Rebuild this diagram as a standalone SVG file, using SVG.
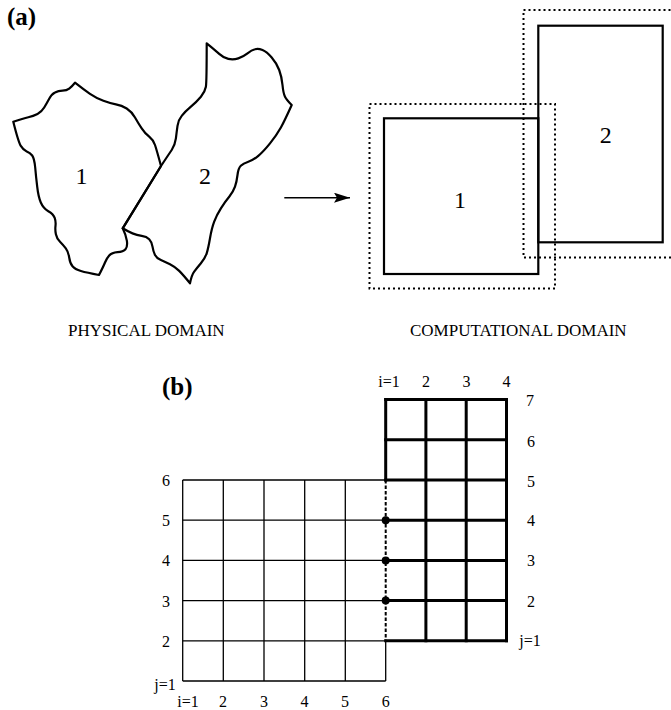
<svg xmlns="http://www.w3.org/2000/svg" width="671" height="710" viewBox="0 0 671 710">
  <defs>
    <style>
      text { font-family: "Liberation Serif", "Times New Roman", serif; fill: #000; }
      .panel { font-size: 25px; font-weight: bold; }
      .num { font-size: 24px; text-anchor: middle; }
      .cap { font-size: 17px; }
      .lab { font-size: 16px; text-anchor: middle; }
      .outline { fill: none; stroke: #000; stroke-width: 2.2; stroke-linejoin: round; }
      .box { fill: none; stroke: #000; stroke-width: 2.2; }
      .halo { fill: none; stroke: #000; stroke-width: 2; stroke-dasharray: 2 3; }
      .thin { stroke: #000; stroke-width: 1.3; fill: none; }
      .thick { stroke: #000; stroke-width: 3; fill: none; stroke-linecap: square; }
      .dash { stroke: #000; stroke-width: 2; stroke-dasharray: 3.5 2; fill: none; }
    </style>
    <marker id="arrowhead" viewBox="0 0 16 10" refX="16" refY="5" markerWidth="16" markerHeight="10" markerUnits="userSpaceOnUse" orient="auto">
      <path d="M0,0 L16,5 L0,10 L3,5 Z" fill="#000"/>
    </marker>
  </defs>

  <!-- panel (a) -->
  <text class="panel" x="7" y="25">(a)</text>

  <g id="physical-block-1">
    <path class="outline" d="M75,82.7 Q83.3,89.3 90,93.8 Q96.7,98.3 103.4,100.8 Q110,103.3 115.9,104.3 Q121.7,105.3 126.7,108.5 Q131.7,111.7 135,117.5 Q138.3,123.3 141.7,128.3 Q145,133.3 149.2,136.7 Q153.3,140 155,145 Q156.7,150 161,166
      L122.7,228.3
      Q126,235 126.9,240.9 Q127.7,246.7 125.5,249.2 Q123.3,251.7 117.5,252.2 Q111.7,252.7 109.2,255.5 Q106.7,258.3 105,262.5 Q103.3,266.7 99,275
      Q86.7,272.7 80.9,271 Q75,269.3 72.5,266.3 Q70,263.3 69.2,257.5 Q68.3,251.7 65.8,248.4 Q63.3,245 60,241.7 Q56.7,238.3 55.9,234.2 Q55,230 55.5,225.9 Q56,221.7 54.7,217.9 Q53.3,214 48.3,211.2 Q43.3,208.3 40.8,202.5 Q38.3,196.7 37.2,186.7 Q36,176.7 35.2,167.5 Q34.3,158.3 32.2,155.5 Q30,152.7 26.7,151.4 Q23.3,150 20.8,145.9 Q18.3,141.7 13.3,121.7
      Q23.3,118.3 28.3,117.2 Q33.3,116 37.5,113.9 Q41.7,111.7 44.2,107.5 Q46.7,103.3 49.2,98.7 Q51.7,94 55,92.4 Q58.3,90.7 62.5,90.7 Q66.7,90.7 69.2,88.7 Q71.7,86.7 75,82.7 Z"/>
    <text class="num" x="81.5" y="184">1</text>
  </g>

  <g id="physical-block-2">
    <path class="outline" d="M161,166 Q168.3,155 171.7,150 Q175,145 175.9,138.4 Q176.7,131.7 177.5,125.9 Q178.3,120 181.7,115.9 Q185,111.7 190.9,106.7 Q196.7,101.7 200.9,96.7 Q205,91.7 205.9,86.7 Q206.7,81.7 206.7,43.3
      Q215,50 219.2,53.9 Q223.3,57.7 228.3,58.9 Q233.3,60 238.3,58.4 Q243.3,56.7 247.5,53.4 Q251.7,50 255,49.2 Q258.3,48.3 262.5,50 Q266.7,51.7 271.7,57.5 Q276.7,63.3 279.2,70 Q281.7,76.7 282.5,85 Q283.3,93.3 285,96.7 Q286.7,100 291.7,105
      Q285,120 280.9,127.5 Q276.7,135 270,143.4 Q263.3,151.7 258.3,155.9 Q253.3,160 248.3,161.7 Q243.3,163.3 240.8,165.8 Q238.3,168.3 237.5,175 Q236.7,181.7 235,186.7 Q233.3,191.7 229.2,196.7 Q225,201.7 220.9,208.4 Q216.7,215 214.2,221.7 Q211.7,228.3 210,238.3 Q208.3,248.3 206.7,253.3 Q205,258.3 200.9,263.3 Q196.7,268.3 194.2,271.7 Q191.7,275 190,283.3
      Q183.3,275 179.2,270.9 Q175,266.7 170,264.2 Q165,261.7 160.9,260 Q156.7,258.3 155,255 Q153.3,251.7 152.5,246.7 Q151.7,241.7 149.2,239.2 Q146.7,236.7 141.7,235.9 Q136.7,235 132.5,233.4 Q128.3,231.7 122.7,228.3 Z"/>
    <text class="num" x="205" y="184">2</text>
  </g>

  <g id="computational-block-1">
    <rect class="halo" x="369.5" y="104" width="185.5" height="184.5"/>
    <rect class="box" x="384" y="118.3" width="154.3" height="155.7"/>
    <text class="num" x="460" y="208">1</text>
  </g>

  <g id="computational-block-2">
    <rect class="halo" x="523.5" y="10" width="160" height="247.5"/>
    <rect class="box" x="538.3" y="25.7" width="124.4" height="216.6"/>
    <text class="num" x="605.7" y="143">2</text>
  </g>

  <g id="connectors">
    <line x1="284.3" y1="197.7" x2="350" y2="197.7" stroke="#000" stroke-width="1.6" marker-end="url(#arrowhead)"/>
  </g>

  <text class="cap" x="68" y="336">PHYSICAL DOMAIN</text>
  <text class="cap" x="410" y="336">COMPUTATIONAL DOMAIN</text>

  <!-- panel (b) -->
  <text class="panel" x="162" y="395">(b)</text>

  <g id="grid-block-1">
    <!-- columns i=1..5, and i=6 below the overlap -->
    <path class="thin" d="M182.7,480 V681 M223.3,480 V681 M264,480 V681 M304.7,480 V681 M345.3,480 V681 M385.7,640.8 V681"/>
    <!-- rows j=1..6 -->
    <path class="thin" d="M182.7,480 H385.7 M182.7,520.2 H385.7 M182.7,560.4 H385.7 M182.7,600.6 H385.7 M182.7,640.8 H385.7 M182.7,681 H385.7"/>
    <g class="lab">
      <text x="188" y="707">i=1</text>
      <text x="223" y="707">2</text>
      <text x="264" y="707">3</text>
      <text x="304.5" y="707">4</text>
      <text x="345" y="707">5</text>
      <text x="385.7" y="707">6</text>
      <text x="165" y="690">j=1</text>
      <text x="166" y="646.5">2</text>
      <text x="166" y="606.5">3</text>
      <text x="166" y="566">4</text>
      <text x="166" y="526">5</text>
      <text x="166" y="486">6</text>
    </g>
  </g>

  <g id="grid-block-2">
    <!-- columns i=1..4 -->
    <path class="thick" d="M425.9,399.6 V640.8 M466.2,399.6 V640.8 M506.5,399.6 V640.8 M385.7,399.6 V480"/>
    <!-- rows j=1..7 -->
    <path class="thick" d="M385.7,399.6 H506.5 M385.7,439.8 H506.5 M385.7,480 H506.5 M385.7,520.2 H506.5 M385.7,560.4 H506.5 M385.7,600.6 H506.5 M385.7,640.8 H506.5"/>
    <g class="lab">
      <text x="389" y="387">i=1</text>
      <text x="426" y="387">2</text>
      <text x="466.5" y="387">3</text>
      <text x="506.5" y="387">4</text>
      <text x="530" y="405.5">7</text>
      <text x="531" y="446.5">6</text>
      <text x="531" y="486.5">5</text>
      <text x="531" y="526">4</text>
      <text x="531" y="566">3</text>
      <text x="531" y="606.5">2</text>
      <text x="530" y="646">j=1</text>
    </g>
  </g>

  <!-- shared interface line with overlap points -->
  <g id="interface">
    <line class="dash" x1="385.7" y1="480" x2="385.7" y2="640.8"/>
    <circle cx="385.7" cy="520.2" r="4"/>
    <circle cx="385.7" cy="560.4" r="4"/>
    <circle cx="385.7" cy="600.6" r="4"/>
  </g>
</svg>
